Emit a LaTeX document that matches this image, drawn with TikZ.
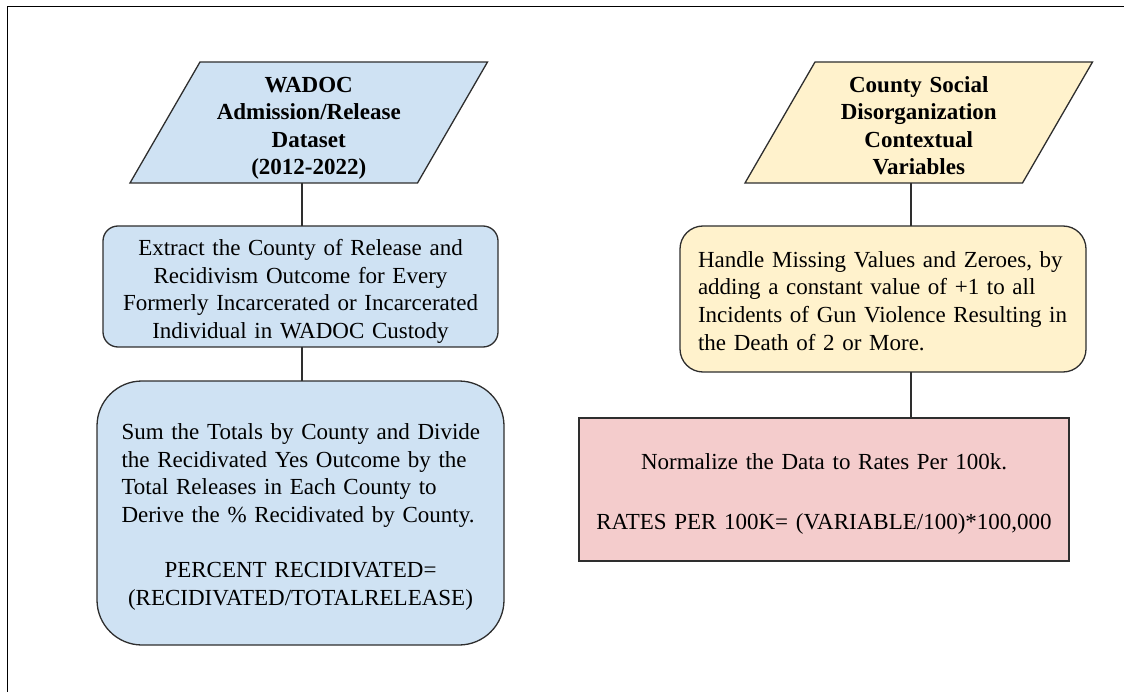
\documentclass[tikz,border=0pt]{standalone}
\usepackage{fontspec}
\setmainfont{Liberation Serif}
\usetikzlibrary{backgrounds}
\definecolor{bluefill}{HTML}{CFE2F3}
\definecolor{yelfill}{HTML}{FFF2CC}
\definecolor{pinkfill}{HTML}{F4CCCC}
\definecolor{edgecol}{HTML}{2E2E2E}
\hyphenpenalty=10000
\exhyphenpenalty=10000
\begin{document}
\begin{tikzpicture}[x=1pt,y=-1pt,
  every node/.style={font=\fontsize{23}{27.7}\selectfont, inner sep=0pt, outer sep=0pt},
  parabox/.style={minimum width=#1, text width=#1, minimum height=121, align=center, text height=27pt,
    font=\fontsize{23}{27.2}\selectfont\bfseries},
  procbox/.style={draw=edgecol, line width=1.3pt, rectangle},
  link/.style={draw=edgecol, line width=1.3pt},
  frameline/.style={draw=black, line width=1pt}
]
\useasboundingbox (0,0) rectangle (1124,692);
\draw[frameline] (7,692) -- (7,7) -- (1124,7);

% left column
\node[parabox=287.5] (p1) at (308.75,122.5)
  {WADOC\\Admission/Release\\Dataset\\(2012-2022)};
\node[procbox, fill=bluefill, rounded corners=15pt, minimum width=395, minimum height=121, text width=393, align=center, text height=26pt] (b2) at (300.5,286.5)
  {Extract the County of Release and\\Recidivism Outcome for Every\\Formerly Incarcerated or Incarcerated\\Individual in WADOC Custody};
\node[procbox, fill=bluefill, rounded corners=45pt, minimum width=407, minimum height=264, text width=374, align=left, text height=24pt] (b3) at (300.5,513)
  {\leftskip=8pt
   Sum the Totals by County and Divide\\the Recidivated Yes Outcome by the\\Total Releases in Each County to\\Derive the \% Recidivated by County.\par
   \vspace{27.7pt}\centering PERCENT RECIDIVATED=\\(RECIDIVATED/TOTALRELEASE)\par};

% right column
\node[parabox=277.5] (p2) at (918.75,122.5)
  {County Social\\Disorganization\\Contextual\\Variables\vphantom{()}};
\node[procbox, fill=yelfill, rounded corners=23pt, minimum width=406, minimum height=146, text width=370, align=left, text height=20pt] (y1) at (883,299)
  {Handle Missing Values and Zeroes, by\\adding a constant value of +1 to all\\Incidents of Gun Violence Resulting in\\the Death of 2 or More.};
\node[procbox, fill=pinkfill, minimum width=490, minimum height=143, text width=488, align=center, text height=25pt] (pk) at (824,489.5)
  {Normalize the Data to Rates Per 100k.\\[31.7pt]RATES PER 100K= (VARIABLE/100)*100,000};

\begin{scope}[on background layer]
\draw[link, fill=bluefill] ([xshift=35pt]p1.north west) -- ([xshift=35pt]p1.north east)
  -- ([xshift=-35pt]p1.south east) -- ([xshift=-35pt]p1.south west) -- cycle;
\draw[link, fill=yelfill] ([xshift=35pt]p2.north west) -- ([xshift=35pt]p2.north east)
  -- ([xshift=-35pt]p2.south east) -- ([xshift=-35pt]p2.south west) -- cycle;
\end{scope}

% connectors
\coordinate (cl) at (302,0);
\coordinate (cr) at (911,0);
\draw[link] (p1.south -| cl) -- (b2.north -| cl);
\draw[link] (b2.south -| cl) -- (b3.north -| cl);
\draw[link] (p2.south -| cr) -- (y1.north -| cr);
\draw[link] (y1.south -| cr) -- (pk.north -| cr);
\end{tikzpicture}
\end{document}
